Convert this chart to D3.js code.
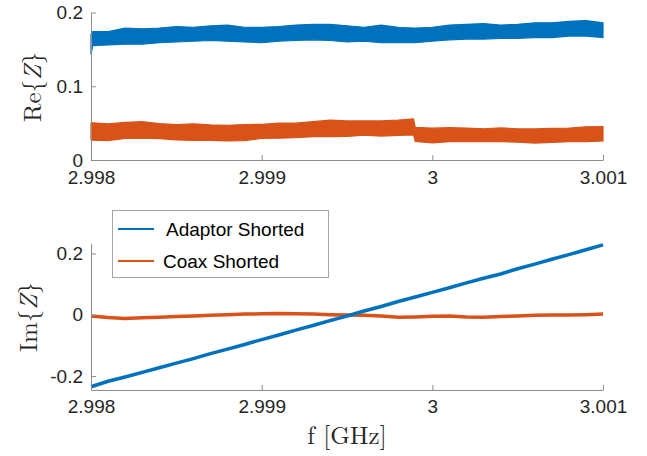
<!DOCTYPE html>
<meta charset="utf-8">
<title>Re/Im Z vs frequency</title>
<style type="text/css">
  body { margin: 0; background: #fff; }
  .axis path, .axis line { stroke: #8c8c8c; }
  .axis text { fill: #262626; font-family: Helvetica, Arial, "Liberation Sans", sans-serif; font-size: 19px; }
  .latex { font-family: "Latin Modern Roman", "CMU Serif", "Liberation Serif", "DejaVu Serif", serif; font-size: 25px; fill: #262626; }
</style>
<body>
<div id="chart"></div>
<script src="https://d3js.org/d3.v7.min.js"></script>
<script>

// frequencies (GHz) for the upper panel, including the step near 2.99989
var fTop = [2.998, 2.99801, 2.9981, 2.9982, 2.9983, 2.9984, 2.9985, 2.9986, 2.9987, 2.9988, 2.9989,
            2.999, 2.9991, 2.9992, 2.9993, 2.9994, 2.9995, 2.9996, 2.9997, 2.9998, 2.99989, 2.9999,
            3.0, 3.0001, 3.0002, 3.0003, 3.0004, 3.0005, 3.0006, 3.0007, 3.0008, 3.0009, 3.001];

// Re{Z}, noise band (low / high)
var adaptorReHi = [0.170, 0.174, 0.174, 0.179, 0.178, 0.179, 0.181, 0.180, 0.182, 0.183, 0.180,
                   0.180, 0.181, 0.183, 0.184, 0.184, 0.182, 0.180, 0.183, 0.180, 0.179, 0.179,
                   0.180, 0.183, 0.184, 0.185, 0.183, 0.184, 0.186, 0.186, 0.188, 0.189, 0.186];
var adaptorReLo = [0.143, 0.155, 0.156, 0.157, 0.157, 0.159, 0.160, 0.161, 0.162, 0.161, 0.160,
                   0.159, 0.161, 0.162, 0.163, 0.162, 0.160, 0.161, 0.159, 0.159, 0.159, 0.159,
                   0.161, 0.163, 0.164, 0.164, 0.165, 0.165, 0.166, 0.166, 0.168, 0.168, 0.166];
var coaxReHi = [0.050, 0.0505, 0.049, 0.051, 0.052, 0.0495, 0.048, 0.049, 0.0476, 0.047, 0.048,
                0.0484, 0.050, 0.050, 0.052, 0.054, 0.053, 0.053, 0.053, 0.054, 0.0558, 0.0442,
                0.0431, 0.0438, 0.0433, 0.0424, 0.0435, 0.0424, 0.0422, 0.043, 0.0431, 0.045, 0.0453];
var coaxReLo = [0.0272, 0.0268, 0.0261, 0.0293, 0.0295, 0.0291, 0.0272, 0.0265, 0.0265, 0.0259, 0.0264,
                0.0294, 0.0295, 0.0302, 0.0316, 0.0317, 0.032, 0.0337, 0.0324, 0.0333, 0.034, 0.0252,
                0.0231, 0.0248, 0.0249, 0.0249, 0.0249, 0.0242, 0.0229, 0.0238, 0.0249, 0.0249, 0.0259];

// frequencies for the lower panel
var fBot = [2.998, 2.9981, 2.9982, 2.9983, 2.9984, 2.9985, 2.9986, 2.9987, 2.9988, 2.9989,
            2.999, 2.9991, 2.9992, 2.9993, 2.9994, 2.9995, 2.9996, 2.9997, 2.9998, 2.9999,
            3.0, 3.0001, 3.0002, 3.0003, 3.0004, 3.0005, 3.0006, 3.0007, 3.0008, 3.0009, 3.001];
var adaptorIm = [-0.235, -0.217, -0.203, -0.188, -0.173, -0.158, -0.143, -0.127, -0.112, -0.097,
                 -0.081, -0.066, -0.050, -0.035, -0.019, -0.004, 0.012, 0.027, 0.043, 0.058,
                 0.073, 0.088, 0.104, 0.119, 0.133, 0.150, 0.165, 0.181, 0.196, 0.212, 0.228];
var coaxIm = [-0.004, -0.009, -0.012, -0.010, -0.008, -0.006, -0.004, -0.002, 0.000, 0.002,
              0.003, 0.004, 0.003, 0.002, 0.000, -0.001, -0.002, -0.004, -0.008, -0.007,
              -0.005, -0.004, -0.007, -0.008, -0.006, -0.004, -0.002, -0.001, -0.001, 0.000, 0.002];

var xTicks = [2.998, 2.999, 3, 3.001];
var xTickLabels = ["2.998", "2.999", "3", "3.001"];
var reTicks = [0, 0.1, 0.2];
var reTickLabels = ["0", "0.1", "0.2"];
var imTicks = [-0.2, 0, 0.2];
var imTickLabels = ["-0.2", "0", "0.2"];
var seriesNames = ["Adaptor Shorted", "Coax Shorted"];

var blue = "#0072bd", orange = "#d95319";

var width = 647, height = 456;
var svg = d3.select("#chart").append("svg")
    .attr("width", width)
    .attr("height", height);

var x = d3.scaleLinear().domain([2.998, 3.001]).range([91, 603]);
var yRe = d3.scaleLinear().domain([0, 0.2]).range([160, 12.5]);
var yIm = d3.scaleLinear().domain([-0.2455, 0.233]).range([390, 243.3]);

function fmt(vals, labels) {
  return function(d) { return labels[vals.indexOf(d)]; };
}

// ----- upper panel: noise bands drawn as areas -----
function band(lo, hi, color) {
  var pts = fTop.map(function(f, i) { return {f: f, lo: lo[i], hi: hi[i]}; });
  svg.append("path")
      .datum(pts)
      .attr("d", d3.area()
          .x(function(d) { return x(d.f); })
          .y0(function(d) { return yRe(d.lo); })
          .y1(function(d) { return yRe(d.hi); }))
      .attr("fill", color)
      .attr("stroke", color)
      .attr("stroke-width", 1.2)
      .attr("stroke-linejoin", "miter");
}
band(adaptorReLo, adaptorReHi, blue);
band(coaxReLo, coaxReHi, orange);

svg.append("g")
    .attr("class", "axis")
    .attr("transform", "translate(91,0)")
    .call(d3.axisLeft(yRe).tickValues(reTicks).tickFormat(fmt(reTicks, reTickLabels))
        .tickSizeInner(-5).tickSizeOuter(0).tickPadding(8));
svg.append("g")
    .attr("class", "axis")
    .attr("transform", "translate(0,160)")
    .call(d3.axisBottom(x).tickValues(xTicks).tickFormat(fmt(xTicks, xTickLabels))
        .tickSizeInner(-5).tickSizeOuter(0).tickPadding(11));

// ----- lower panel: lines -----
var imLine = function(vals) {
  return d3.line()
      .x(function(d, i) { return x(fBot[i]); })
      .y(function(d) { return yIm(d); })(vals);
};
svg.append("path").attr("d", imLine(coaxIm))
    .attr("fill", "none").attr("stroke", orange).attr("stroke-width", 3.5);
svg.append("path").attr("d", imLine(adaptorIm))
    .attr("fill", "none").attr("stroke", blue).attr("stroke-width", 3.5);

svg.append("g")
    .attr("class", "axis")
    .attr("transform", "translate(91,0)")
    .call(d3.axisLeft(yIm).tickValues(imTicks).tickFormat(fmt(imTicks, imTickLabels))
        .tickSizeInner(-5).tickSizeOuter(0).tickPadding(8));
svg.append("g")
    .attr("class", "axis")
    .attr("transform", "translate(0,390)")
    .call(d3.axisBottom(x).tickValues(xTicks).tickFormat(fmt(xTicks, xTickLabels))
        .tickSizeInner(-5).tickSizeOuter(0).tickPadding(10));

svg.selectAll(".axis .domain").attr("stroke", "#8c8c8c");

// ----- axis labels -----
var reLab = svg.append("text").attr("class", "latex")
    .attr("transform", "translate(41,87) rotate(-90)")
    .attr("text-anchor", "middle");
reLab.append("tspan").text("Re{");
reLab.append("tspan").style("font-style", "italic").text("Z");
reLab.append("tspan").text("}");

var imLab = svg.append("text").attr("class", "latex")
    .attr("transform", "translate(37,317) rotate(-90)")
    .attr("text-anchor", "middle");
imLab.append("tspan").text("Im{");
imLab.append("tspan").style("font-style", "italic").text("Z");
imLab.append("tspan").text("}");

svg.append("text").attr("class", "latex")
    .attr("x", 347).attr("y", 444)
    .attr("text-anchor", "middle")
    .text("f [GHz]");

// ----- legend -----
var legend = svg.append("g");
legend.append("rect")
    .attr("x", 112.5).attr("y", 210.5).attr("width", 216).attr("height", 67)
    .attr("fill", "#fff").attr("stroke", "#a6a6a6").attr("stroke-width", 1);
[blue, orange].forEach(function(c, i) {
  var yy = 229 + i * 32;
  legend.append("line")
      .attr("x1", 118).attr("x2", 154).attr("y1", yy).attr("y2", yy)
      .attr("stroke", c).attr("stroke-width", 2);
  legend.append("text")
      .attr("x", i === 0 ? 166 : 163).attr("y", yy + 7)
      .style("font-family", "Helvetica, Arial, 'Liberation Sans', sans-serif")
      .style("font-size", "19px").style("fill", "#000")
      .text(seriesNames[i]);
});

</script>
</body>
